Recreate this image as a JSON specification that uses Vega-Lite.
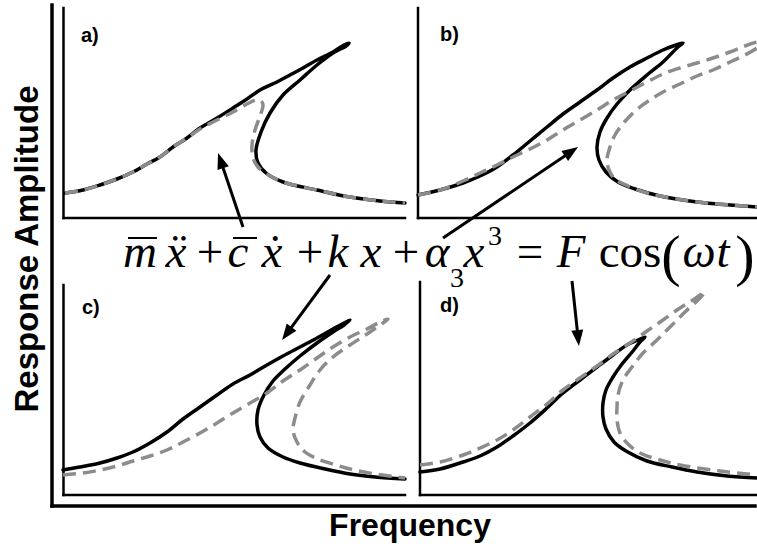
{
  "$schema": "https://vega.github.io/schema/vega-lite/v6.json",
  "width": 757,
  "height": 554,
  "padding": 0,
  "autosize": "none",
  "background": "white",
  "config": {"view": {"stroke": null}},
  "datasets": {
    "outerAxes": [
      {"x": 52, "y": 5, "x2": 52, "y2": 506},
      {"x": 52, "y": 506, "x2": 755, "y2": 506}
    ],
    "panelAxes": [
      {"x": 63.5, "y": 8, "x2": 63.5, "y2": 218},
      {"x": 63.5, "y": 218, "x2": 405, "y2": 218},
      {"x": 418, "y": 8, "x2": 418, "y2": 218},
      {"x": 418, "y": 218, "x2": 757, "y2": 218},
      {"x": 63.5, "y": 285, "x2": 63.5, "y2": 495},
      {"x": 63.5, "y": 495, "x2": 405, "y2": 495},
      {"x": 420, "y": 282, "x2": 420, "y2": 495},
      {"x": 420, "y": 495, "x2": 757, "y2": 495}
    ],
    "exact": [
      {"p": "a", "x": 65, "y": 193}, {"p": "a", "x": 83, "y": 190}, {"p": "a", "x": 100, "y": 185}, {"p": "a", "x": 117, "y": 179},
      {"p": "a", "x": 133, "y": 172}, {"p": "a", "x": 147, "y": 164}, {"p": "a", "x": 160, "y": 157}, {"p": "a", "x": 173, "y": 147},
      {"p": "a", "x": 187, "y": 138}, {"p": "a", "x": 200, "y": 128}, {"p": "a", "x": 217, "y": 118}, {"p": "a", "x": 233, "y": 108},
      {"p": "a", "x": 247, "y": 99}, {"p": "a", "x": 260, "y": 90}, {"p": "a", "x": 277, "y": 82}, {"p": "a", "x": 290, "y": 75},
      {"p": "a", "x": 303, "y": 68}, {"p": "a", "x": 317, "y": 60}, {"p": "a", "x": 333, "y": 52}, {"p": "a", "x": 344, "y": 45},
      {"p": "a", "x": 349, "y": 43}, {"p": "a", "x": 346, "y": 46}, {"p": "a", "x": 333, "y": 53}, {"p": "a", "x": 317, "y": 65},
      {"p": "a", "x": 300, "y": 80}, {"p": "a", "x": 283, "y": 95}, {"p": "a", "x": 270, "y": 113}, {"p": "a", "x": 261, "y": 132},
      {"p": "a", "x": 256, "y": 150}, {"p": "a", "x": 258, "y": 163}, {"p": "a", "x": 266, "y": 173}, {"p": "a", "x": 283, "y": 182},
      {"p": "a", "x": 317, "y": 190}, {"p": "a", "x": 350, "y": 197}, {"p": "a", "x": 380, "y": 201}, {"p": "a", "x": 405, "y": 203},

      {"p": "b", "x": 418, "y": 195}, {"p": "b", "x": 440, "y": 190}, {"p": "b", "x": 463, "y": 183}, {"p": "b", "x": 480, "y": 176},
      {"p": "b", "x": 497, "y": 167}, {"p": "b", "x": 513, "y": 155}, {"p": "b", "x": 530, "y": 141}, {"p": "b", "x": 547, "y": 127},
      {"p": "b", "x": 563, "y": 114}, {"p": "b", "x": 580, "y": 102}, {"p": "b", "x": 597, "y": 90}, {"p": "b", "x": 613, "y": 78},
      {"p": "b", "x": 630, "y": 67}, {"p": "b", "x": 647, "y": 58}, {"p": "b", "x": 663, "y": 50}, {"p": "b", "x": 676, "y": 45},
      {"p": "b", "x": 683, "y": 43}, {"p": "b", "x": 678, "y": 47}, {"p": "b", "x": 663, "y": 62}, {"p": "b", "x": 647, "y": 75},
      {"p": "b", "x": 630, "y": 90}, {"p": "b", "x": 617, "y": 104}, {"p": "b", "x": 607, "y": 118}, {"p": "b", "x": 600, "y": 132},
      {"p": "b", "x": 597, "y": 147}, {"p": "b", "x": 599, "y": 160}, {"p": "b", "x": 606, "y": 172}, {"p": "b", "x": 618, "y": 182},
      {"p": "b", "x": 635, "y": 189}, {"p": "b", "x": 660, "y": 196}, {"p": "b", "x": 697, "y": 202}, {"p": "b", "x": 730, "y": 205},
      {"p": "b", "x": 757, "y": 207},

      {"p": "c", "x": 63, "y": 470}, {"p": "c", "x": 80, "y": 467}, {"p": "c", "x": 100, "y": 463}, {"p": "c", "x": 117, "y": 458},
      {"p": "c", "x": 133, "y": 452}, {"p": "c", "x": 150, "y": 443}, {"p": "c", "x": 167, "y": 432}, {"p": "c", "x": 183, "y": 419},
      {"p": "c", "x": 200, "y": 407}, {"p": "c", "x": 217, "y": 395}, {"p": "c", "x": 233, "y": 384}, {"p": "c", "x": 250, "y": 375},
      {"p": "c", "x": 267, "y": 365}, {"p": "c", "x": 283, "y": 356}, {"p": "c", "x": 300, "y": 347}, {"p": "c", "x": 317, "y": 338},
      {"p": "c", "x": 333, "y": 329}, {"p": "c", "x": 344, "y": 323}, {"p": "c", "x": 350, "y": 320}, {"p": "c", "x": 344, "y": 325},
      {"p": "c", "x": 333, "y": 332}, {"p": "c", "x": 317, "y": 343}, {"p": "c", "x": 300, "y": 356}, {"p": "c", "x": 285, "y": 369},
      {"p": "c", "x": 273, "y": 381}, {"p": "c", "x": 264, "y": 395}, {"p": "c", "x": 258, "y": 410}, {"p": "c", "x": 257, "y": 425},
      {"p": "c", "x": 260, "y": 437}, {"p": "c", "x": 268, "y": 448}, {"p": "c", "x": 283, "y": 457}, {"p": "c", "x": 300, "y": 463},
      {"p": "c", "x": 325, "y": 469}, {"p": "c", "x": 350, "y": 474}, {"p": "c", "x": 375, "y": 477}, {"p": "c", "x": 405, "y": 479},

      {"p": "d", "x": 420, "y": 472}, {"p": "d", "x": 440, "y": 469}, {"p": "d", "x": 463, "y": 462}, {"p": "d", "x": 480, "y": 456},
      {"p": "d", "x": 497, "y": 447}, {"p": "d", "x": 513, "y": 436}, {"p": "d", "x": 530, "y": 423}, {"p": "d", "x": 547, "y": 408},
      {"p": "d", "x": 563, "y": 393}, {"p": "d", "x": 580, "y": 380}, {"p": "d", "x": 597, "y": 367}, {"p": "d", "x": 613, "y": 355},
      {"p": "d", "x": 627, "y": 345}, {"p": "d", "x": 638, "y": 340}, {"p": "d", "x": 645, "y": 337}, {"p": "d", "x": 640, "y": 342},
      {"p": "d", "x": 633, "y": 351}, {"p": "d", "x": 622, "y": 364}, {"p": "d", "x": 613, "y": 377}, {"p": "d", "x": 606, "y": 390},
      {"p": "d", "x": 603, "y": 403}, {"p": "d", "x": 603, "y": 417}, {"p": "d", "x": 606, "y": 429}, {"p": "d", "x": 614, "y": 442},
      {"p": "d", "x": 626, "y": 451}, {"p": "d", "x": 647, "y": 461}, {"p": "d", "x": 672, "y": 467}, {"p": "d", "x": 697, "y": 472},
      {"p": "d", "x": 727, "y": 476}, {"p": "d", "x": 757, "y": 478}
    ],
    "reduced": [
      {"p": "a", "x": 65, "y": 193}, {"p": "a", "x": 83, "y": 190}, {"p": "a", "x": 100, "y": 185}, {"p": "a", "x": 117, "y": 179},
      {"p": "a", "x": 133, "y": 172}, {"p": "a", "x": 147, "y": 164}, {"p": "a", "x": 160, "y": 157}, {"p": "a", "x": 173, "y": 147},
      {"p": "a", "x": 187, "y": 138}, {"p": "a", "x": 200, "y": 129}, {"p": "a", "x": 217, "y": 120}, {"p": "a", "x": 233, "y": 112},
      {"p": "a", "x": 247, "y": 104}, {"p": "a", "x": 256, "y": 100}, {"p": "a", "x": 261, "y": 101}, {"p": "a", "x": 263, "y": 105},
      {"p": "a", "x": 260, "y": 116}, {"p": "a", "x": 255, "y": 130}, {"p": "a", "x": 252, "y": 145}, {"p": "a", "x": 253, "y": 158},
      {"p": "a", "x": 258, "y": 167}, {"p": "a", "x": 267, "y": 174}, {"p": "a", "x": 283, "y": 182}, {"p": "a", "x": 317, "y": 190},
      {"p": "a", "x": 350, "y": 197}, {"p": "a", "x": 380, "y": 201}, {"p": "a", "x": 405, "y": 203},

      {"p": "b", "x": 418, "y": 195}, {"p": "b", "x": 440, "y": 190}, {"p": "b", "x": 463, "y": 181}, {"p": "b", "x": 480, "y": 173},
      {"p": "b", "x": 497, "y": 165}, {"p": "b", "x": 513, "y": 157}, {"p": "b", "x": 530, "y": 149}, {"p": "b", "x": 547, "y": 140},
      {"p": "b", "x": 563, "y": 130}, {"p": "b", "x": 580, "y": 120}, {"p": "b", "x": 597, "y": 110}, {"p": "b", "x": 613, "y": 100},
      {"p": "b", "x": 630, "y": 91}, {"p": "b", "x": 647, "y": 82}, {"p": "b", "x": 663, "y": 74}, {"p": "b", "x": 680, "y": 68},
      {"p": "b", "x": 697, "y": 63}, {"p": "b", "x": 713, "y": 58}, {"p": "b", "x": 730, "y": 52}, {"p": "b", "x": 745, "y": 46},
      {"p": "b", "x": 757, "y": 42}, {"p": "b", "x": 768, "y": 39}, {"p": "b", "x": 760, "y": 46}, {"p": "b", "x": 745, "y": 55},
      {"p": "b", "x": 730, "y": 62}, {"p": "b", "x": 713, "y": 70}, {"p": "b", "x": 697, "y": 76}, {"p": "b", "x": 680, "y": 84},
      {"p": "b", "x": 663, "y": 92}, {"p": "b", "x": 650, "y": 100}, {"p": "b", "x": 640, "y": 107}, {"p": "b", "x": 630, "y": 116},
      {"p": "b", "x": 622, "y": 125}, {"p": "b", "x": 615, "y": 135}, {"p": "b", "x": 610, "y": 147}, {"p": "b", "x": 607, "y": 160},
      {"p": "b", "x": 609, "y": 170}, {"p": "b", "x": 615, "y": 179}, {"p": "b", "x": 628, "y": 186}, {"p": "b", "x": 647, "y": 193},
      {"p": "b", "x": 660, "y": 196}, {"p": "b", "x": 697, "y": 202}, {"p": "b", "x": 730, "y": 205}, {"p": "b", "x": 757, "y": 207},

      {"p": "c", "x": 63, "y": 475}, {"p": "c", "x": 83, "y": 473}, {"p": "c", "x": 100, "y": 470}, {"p": "c", "x": 117, "y": 466},
      {"p": "c", "x": 133, "y": 461}, {"p": "c", "x": 150, "y": 456}, {"p": "c", "x": 167, "y": 450}, {"p": "c", "x": 183, "y": 442},
      {"p": "c", "x": 200, "y": 433}, {"p": "c", "x": 217, "y": 423}, {"p": "c", "x": 233, "y": 413}, {"p": "c", "x": 250, "y": 403},
      {"p": "c", "x": 267, "y": 393}, {"p": "c", "x": 283, "y": 381}, {"p": "c", "x": 300, "y": 370}, {"p": "c", "x": 317, "y": 358},
      {"p": "c", "x": 333, "y": 347}, {"p": "c", "x": 350, "y": 337}, {"p": "c", "x": 367, "y": 329}, {"p": "c", "x": 380, "y": 322},
      {"p": "c", "x": 388, "y": 319}, {"p": "c", "x": 383, "y": 323}, {"p": "c", "x": 367, "y": 334}, {"p": "c", "x": 350, "y": 345},
      {"p": "c", "x": 333, "y": 357}, {"p": "c", "x": 320, "y": 370}, {"p": "c", "x": 310, "y": 385}, {"p": "c", "x": 300, "y": 402},
      {"p": "c", "x": 295, "y": 418}, {"p": "c", "x": 293, "y": 430}, {"p": "c", "x": 297, "y": 442}, {"p": "c", "x": 305, "y": 452},
      {"p": "c", "x": 318, "y": 459}, {"p": "c", "x": 333, "y": 464}, {"p": "c", "x": 350, "y": 469}, {"p": "c", "x": 375, "y": 474},
      {"p": "c", "x": 405, "y": 478},

      {"p": "d", "x": 420, "y": 465}, {"p": "d", "x": 440, "y": 462}, {"p": "d", "x": 463, "y": 455}, {"p": "d", "x": 480, "y": 448},
      {"p": "d", "x": 497, "y": 440}, {"p": "d", "x": 513, "y": 430}, {"p": "d", "x": 530, "y": 417}, {"p": "d", "x": 547, "y": 404},
      {"p": "d", "x": 563, "y": 390}, {"p": "d", "x": 580, "y": 378}, {"p": "d", "x": 597, "y": 366}, {"p": "d", "x": 613, "y": 354},
      {"p": "d", "x": 630, "y": 343}, {"p": "d", "x": 647, "y": 331}, {"p": "d", "x": 663, "y": 320}, {"p": "d", "x": 680, "y": 308},
      {"p": "d", "x": 693, "y": 300}, {"p": "d", "x": 705, "y": 292}, {"p": "d", "x": 700, "y": 298}, {"p": "d", "x": 685, "y": 312},
      {"p": "d", "x": 670, "y": 327}, {"p": "d", "x": 657, "y": 340}, {"p": "d", "x": 643, "y": 353}, {"p": "d", "x": 632, "y": 367},
      {"p": "d", "x": 623, "y": 380}, {"p": "d", "x": 618, "y": 395}, {"p": "d", "x": 617, "y": 407}, {"p": "d", "x": 617, "y": 420},
      {"p": "d", "x": 620, "y": 433}, {"p": "d", "x": 628, "y": 444}, {"p": "d", "x": 640, "y": 453}, {"p": "d", "x": 660, "y": 460},
      {"p": "d", "x": 680, "y": 465}, {"p": "d", "x": 720, "y": 471}, {"p": "d", "x": 757, "y": 475}
    ],
    "shafts": [
      {"x": 243, "y": 227, "x2": 220.6, "y2": 160.6},
      {"x": 443, "y": 238, "x2": 571.4, "y2": 151.5},
      {"x": 330, "y": 275, "x2": 286.8, "y2": 333.6},
      {"x": 572, "y": 281, "x2": 578.1, "y2": 338}
    ],
    "headA": [{"x": 220.6, "y": 160.6}],
    "headB": [{"x": 571.4, "y": 151.5}],
    "headC": [{"x": 286.8, "y": 333.6}],
    "headD": [{"x": 578.1, "y": 338}],
    "overbars": [
      {"x": 128, "y": 238, "x2": 157, "y2": 238},
      {"x": 233, "y": 238, "x2": 257, "y2": 238}
    ],
    "eqItalic": [
      {"t": "m", "x": 140, "y": 267},
      {"t": "x\u0308", "x": 176, "y": 267},
      {"t": "c", "x": 238, "y": 267},
      {"t": "\u1e8b", "x": 272, "y": 267},
      {"t": "k", "x": 338, "y": 267},
      {"t": "x", "x": 371, "y": 267},
      {"t": "α", "x": 437, "y": 267},
      {"t": "x", "x": 474, "y": 267},
      {"t": "F", "x": 571, "y": 267},
      {"t": "ω", "x": 699, "y": 267},
      {"t": "t", "x": 723, "y": 267}
    ],
    "eqRoman": [
      {"t": "+", "x": 210, "y": 267},
      {"t": "+", "x": 310, "y": 267},
      {"t": "+", "x": 406, "y": 267},
      {"t": "=", "x": 530, "y": 267},
      {"t": "cos", "x": 630, "y": 267}
    ],
    "eqScript": [
      {"t": "3", "x": 457, "y": 287},
      {"t": "3", "x": 495, "y": 245}
    ],
    "eqParen": [
      {"t": "(", "x": 671, "y": 275},
      {"t": ")", "x": 745, "y": 275}
    ],
    "panelLabels": [
      {"t": "a)", "x": 81, "y": 42},
      {"t": "b)", "x": 440, "y": 41},
      {"t": "c)", "x": 82, "y": 314},
      {"t": "d)", "x": 440, "y": 312}
    ],
    "yTitle": [{"t": "Response Amplitude", "x": 38, "y": 249}],
    "xTitle": [{"t": "Frequency", "x": 410, "y": 536}]
  },
  "encoding": {
    "x": {"field": "x", "type": "quantitative", "scale": {"domain": [0, 757], "nice": false, "zero": false}, "axis": null},
    "y": {"field": "y", "type": "quantitative", "scale": {"domain": [0, 554], "nice": false, "zero": false, "reverse": true}, "axis": null}
  },
  "layer": [
    {
      "data": {"name": "outerAxes"},
      "mark": {"type": "rule", "color": "black", "strokeWidth": 3.5, "strokeCap": "square"},
      "encoding": {"x2": {"field": "x2"}, "y2": {"field": "y2"}}
    },
    {
      "data": {"name": "panelAxes"},
      "mark": {"type": "rule", "color": "black", "strokeWidth": 2.5, "strokeCap": "square"},
      "encoding": {"x2": {"field": "x2"}, "y2": {"field": "y2"}}
    },
    {
      "data": {"name": "exact"},
      "mark": {"type": "line", "color": "black", "strokeWidth": 3.5, "interpolate": "catmull-rom", "strokeJoin": "round", "strokeCap": "round"},
      "encoding": {"detail": {"field": "p"}, "order": {"value": null}}
    },
    {
      "data": {"name": "reduced"},
      "mark": {"type": "line", "color": "#8c8c8c", "strokeWidth": 3.5, "strokeDash": [13, 7], "interpolate": "catmull-rom", "strokeJoin": "round"},
      "encoding": {"detail": {"field": "p"}, "order": {"value": null}}
    },
    {
      "data": {"name": "shafts"},
      "mark": {"type": "rule", "color": "black", "strokeWidth": 3},
      "encoding": {"x2": {"field": "x2"}, "y2": {"field": "y2"}}
    },
    {
      "data": {"name": "headA"},
      "mark": {"type": "point", "shape": "M0,-1L0.75,1L-0.75,1Z", "size": 256, "filled": true, "color": "black", "opacity": 1, "angle": 341.3}
    },
    {
      "data": {"name": "headB"},
      "mark": {"type": "point", "shape": "M0,-1L0.75,1L-0.75,1Z", "size": 256, "filled": true, "color": "black", "opacity": 1, "angle": 56}
    },
    {
      "data": {"name": "headC"},
      "mark": {"type": "point", "shape": "M0,-1L0.75,1L-0.75,1Z", "size": 256, "filled": true, "color": "black", "opacity": 1, "angle": 216.4}
    },
    {
      "data": {"name": "headD"},
      "mark": {"type": "point", "shape": "M0,-1L0.75,1L-0.75,1Z", "size": 256, "filled": true, "color": "black", "opacity": 1, "angle": 173.9}
    },
    {
      "data": {"name": "overbars"},
      "mark": {"type": "rule", "color": "black", "strokeWidth": 2},
      "encoding": {"x2": {"field": "x2"}, "y2": {"field": "y2"}}
    },
    {
      "data": {"name": "eqItalic"},
      "mark": {"type": "text", "font": "Liberation Serif", "fontStyle": "italic", "fontSize": 47, "align": "center", "baseline": "alphabetic", "color": "black"},
      "encoding": {"text": {"field": "t"}}
    },
    {
      "data": {"name": "eqRoman"},
      "mark": {"type": "text", "font": "Liberation Serif", "fontSize": 47, "align": "center", "baseline": "alphabetic", "color": "black"},
      "encoding": {"text": {"field": "t"}}
    },
    {
      "data": {"name": "eqScript"},
      "mark": {"type": "text", "font": "Liberation Serif", "fontSize": 28, "align": "center", "baseline": "alphabetic", "color": "black"},
      "encoding": {"text": {"field": "t"}}
    },
    {
      "data": {"name": "eqParen"},
      "mark": {"type": "text", "font": "Liberation Serif", "fontSize": 58, "align": "center", "baseline": "alphabetic", "color": "black"},
      "encoding": {"text": {"field": "t"}}
    },
    {
      "data": {"name": "panelLabels"},
      "mark": {"type": "text", "font": "Liberation Sans", "fontWeight": "bold", "fontSize": 20, "align": "left", "baseline": "alphabetic", "color": "black"},
      "encoding": {"text": {"field": "t"}}
    },
    {
      "data": {"name": "yTitle"},
      "mark": {"type": "text", "font": "Liberation Sans", "fontWeight": "bold", "fontSize": 33, "align": "center", "baseline": "alphabetic", "angle": 270, "color": "black"},
      "encoding": {"text": {"field": "t"}}
    },
    {
      "data": {"name": "xTitle"},
      "mark": {"type": "text", "font": "Liberation Sans", "fontWeight": "bold", "fontSize": 32, "align": "center", "baseline": "alphabetic", "color": "black"},
      "encoding": {"text": {"field": "t"}}
    }
  ]
}
